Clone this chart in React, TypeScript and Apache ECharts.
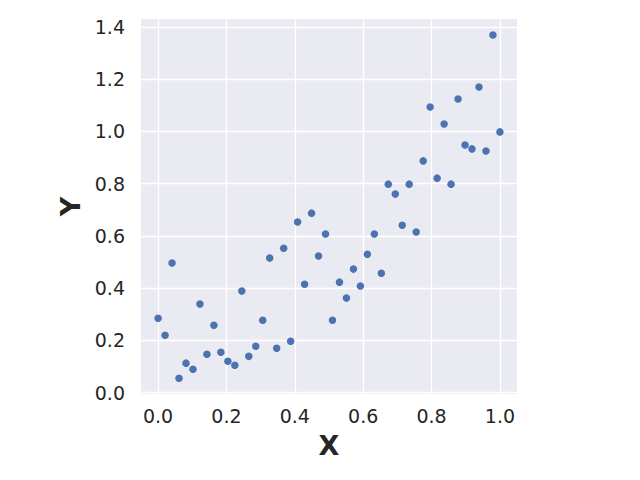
import React, { useEffect, useRef } from "react";
import * as echarts from "echarts";

const xValues = [
  0, 1, 2, 3, 4, 5, 6, 7, 8, 9, 10, 11, 12, 13, 14, 15, 16, 17, 18, 19, 20, 21, 22, 23, 24,
  25, 26, 27, 28, 29, 30, 31, 32, 33, 34, 35, 36, 37, 38, 39, 40, 41, 42, 43, 44, 45, 46, 47, 48, 49,
].map((i) => i / 49);

const yValues = [
  0.285, 0.22, 0.496, 0.055, 0.113, 0.09, 0.339, 0.147, 0.258, 0.155,
  0.12, 0.105, 0.389, 0.139, 0.178, 0.277, 0.515, 0.17, 0.553, 0.197,
  0.653, 0.415, 0.687, 0.523, 0.607, 0.277, 0.423, 0.362, 0.473, 0.408,
  0.53, 0.607, 0.457, 0.798, 0.76, 0.641, 0.798, 0.615, 0.887, 1.093,
  0.821, 1.028, 0.798, 1.124, 0.948, 0.933, 1.17, 0.925, 1.369, 0.998,
];

const xTicks = [0, 0.2, 0.4, 0.6, 0.8, 1.0];
const yTicks = [0, 0.2, 0.4, 0.6, 0.8, 1.0, 1.2, 1.4];

const FONT = "DejaVu Sans";
const TEXT = "#262626";

export default function App() {
  const ref = useRef<HTMLDivElement>(null);
  useEffect(() => {
    if (!ref.current) return;
    const chart = echarts.init(ref.current, undefined, { renderer: "svg" });
    const data = xValues.map((x, i) => [x, yValues[i]]);
    chart.setOption({
      animation: false,
      backgroundColor: "#ffffff",
      grid: {
        left: 141,
        top: 19,
        width: 376,
        height: 375,
        show: true,
        backgroundColor: "#EAEAF2",
        borderWidth: 0,
      },
      xAxis: {
        type: "value",
        min: -0.05,
        max: 1.05,
        name: "X",
        nameLocation: "middle",
        nameGap: 38,
        nameTextStyle: { fontFamily: FONT, fontSize: 27, fontWeight: "bold", color: TEXT },
        axisLine: { show: false },
        axisTick: { show: false, customValues: xTicks },
        axisLabel: {
          customValues: xTicks,
          formatter: (v: number) => v.toFixed(1),
          fontFamily: FONT,
          fontSize: 19,
          color: TEXT,
          margin: 12,
        },
        splitLine: { show: true, lineStyle: { color: "#ffffff", width: 1.3 } },
      },
      yAxis: {
        type: "value",
        min: -0.005,
        max: 1.43,
        name: "Y",
        nameLocation: "middle",
        nameGap: 57,
        nameRotate: 90,
        nameTextStyle: { fontFamily: FONT, fontSize: 27, fontWeight: "bold", color: TEXT },
        axisLine: { show: false },
        axisTick: { show: false, customValues: yTicks },
        axisLabel: {
          customValues: yTicks,
          formatter: (v: number) => v.toFixed(1),
          fontFamily: FONT,
          fontSize: 19,
          color: TEXT,
          margin: 16,
        },
        splitLine: { show: true, lineStyle: { color: "#ffffff", width: 1.3 } },
      },
      series: [
        {
          type: "scatter",
          data,
          symbol: "circle",
          symbolSize: 7.5,
          itemStyle: { color: "#4C72B0", opacity: 1 },
        },
      ],
    });
    return () => chart.dispose();
  }, []);
  return (
    <div
      ref={ref}
      style={{ position: "absolute", left: 0, top: 0, width: 640, height: 480 }}
    />
  );
}
